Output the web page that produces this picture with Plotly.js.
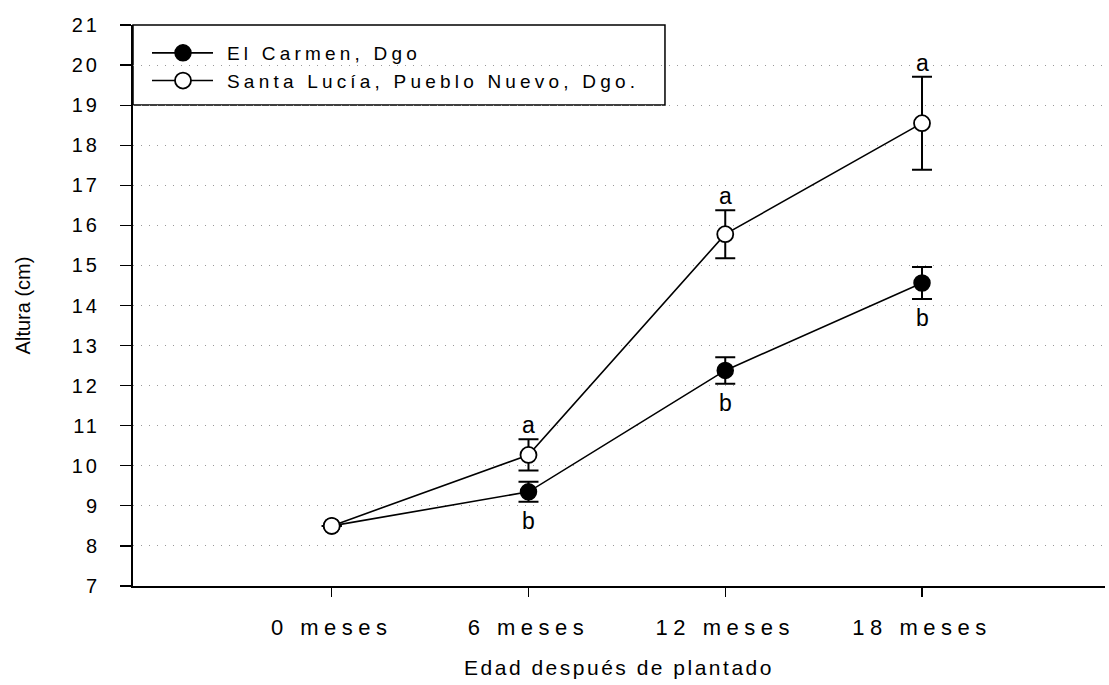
<!DOCTYPE html>
<html>
<head>
<meta charset="utf-8">
<script src="https://cdn.plot.ly/plotly-3.0.1.min.js"></script>
<style>
  html, body { margin: 0; padding: 0; background: #fff; }
  #chart { width: 1109px; height: 685px; }
  .xtick text { letter-spacing: 5.5px; }
  .ytick text { letter-spacing: 3px; }
  .legendtext { letter-spacing: 4.2px; }
  .g-xtitle text { letter-spacing: 2.5px; }
</style>
</head>
<body>
<div id="chart"></div>
<script>
// Plant height by age after planting, two provenances
const categories = ["0 meses", "6 meses", "12 meses", "18 meses"];

const carmenName = "El Carmen, Dgo";
const carmenMean = [8.5, 9.35, 12.38, 14.56];
const carmenErr  = [0, 0.25, 0.33, 0.4];
const carmenLetters = ["", "b", "b", "b"];

const luciaName = "Santa Lucía, Pueblo Nuevo, Dgo.";
const luciaMean = [8.5, 10.27, 15.78, 18.55];
const luciaErr  = [0, 0.39, 0.6, 1.16];
const luciaLetters = ["", "a", "a", "a"];

const yTicks = [7, 8, 9, 10, 11, 12, 13, 14, 15, 16, 17, 18, 19, 20, 21];
const gridTicks = [8, 9, 10, 11, 12, 13, 14, 15, 16, 17, 18, 19, 20];

const FONT = "Liberation Sans, Arial, sans-serif";

const traces = [
  {
    x: categories, y: carmenMean, name: carmenName,
    type: "scatter", mode: "lines+markers",
    line: { color: "#000", width: 1.6 },
    marker: { symbol: "circle", size: 16, color: "#000", line: { color: "#000", width: 1.5 } },
    error_y: { type: "data", array: carmenErr, visible: true, color: "#000", thickness: 2, width: 10 }
  },
  {
    x: categories, y: luciaMean, name: luciaName,
    type: "scatter", mode: "lines+markers",
    line: { color: "#000", width: 1.6 },
    marker: { symbol: "circle", size: 16, color: "#fff", line: { color: "#000", width: 1.8 } },
    error_y: { type: "data", array: luciaErr, visible: true, color: "#000", thickness: 2, width: 10 }
  },
  // carrier for the dotted horizontal guides
  {
    x: categories, y: carmenMean, yaxis: "y2", type: "scatter", mode: "none",
    showlegend: false, hoverinfo: "skip"
  }
];

// significance letters above / below the error bars
const annotations = [];
categories.forEach((c, i) => {
  if (luciaLetters[i]) {
    annotations.push({
      x: c, y: luciaMean[i] + luciaErr[i], xref: "x", yref: "y",
      text: luciaLetters[i], showarrow: false, yanchor: "bottom", yshift: -1,
      font: { family: FONT, size: 23, color: "#000" }
    });
  }
  if (carmenLetters[i]) {
    annotations.push({
      x: c, y: carmenMean[i] - carmenErr[i], xref: "x", yref: "y",
      text: carmenLetters[i], showarrow: false, yanchor: "top", yshift: -4,
      font: { family: FONT, size: 23, color: "#000" }
    });
  }
});

const layout = {
  width: 1109, height: 685,
  margin: { l: 133, r: 4, t: 25, b: 99 },
  paper_bgcolor: "#fff", plot_bgcolor: "rgba(0,0,0,0)",
  font: { family: FONT, color: "#000" },
  showlegend: true,
  legend: {
    x: 0.0144, y: 0.984, xanchor: "left", yanchor: "top",
    bgcolor: "rgba(255,255,255,0)", borderwidth: 0,
    font: { family: FONT, size: 19, color: "#000" },
    tracegroupgap: 0, itemwidth: 70
  },
  xaxis: {
    type: "category", range: [-1.01, 3.93],
    showline: true, linecolor: "#000", linewidth: 2,
    ticks: "outside", ticklen: 9, tickwidth: 1.2, tickcolor: "#000",
    showgrid: false, zeroline: false,
    tickfont: { family: FONT, size: 22, color: "#000" },
    ticklabelstandoff: 12,
    title: { text: "Edad después de plantado", font: { family: FONT, size: 21, color: "#000" }, standoff: 21 }
  },
  yaxis: {
    range: [7, 21], tickvals: yTicks, ticktext: yTicks.map(String),
    showline: true, linecolor: "#000", linewidth: 2,
    ticks: "outside", ticklen: 11, tickwidth: 1.2, tickcolor: "#000",
    showgrid: false, zeroline: false,
    tickfont: { family: FONT, size: 20, color: "#000" },
    ticklabelstandoff: 16,
    title: { text: "Altura (cm)", font: { family: FONT, size: 20, color: "#000" }, standoff: 36 }
  },
  yaxis2: {
    overlaying: "y", range: [7, 21], tickvals: gridTicks,
    showticklabels: false, ticks: "", showline: false, zeroline: false,
    showgrid: true, gridcolor: "#999", gridwidth: 1, griddash: "1px,7px"
  },
  shapes: [
    {
      type: "rect", xref: "paper", yref: "paper",
      x0: 0, x1: 0.5473, y0: 0.8575, y1: 1,
      line: { color: "#000", width: 1.5 }, fillcolor: "rgba(255,255,255,1)", layer: "below"
    }
  ],
  annotations: annotations
};

Plotly.newPlot("chart", traces, layout, { staticPlot: true, displayModeBar: false }).then(gd => {
  // longer legend sample lines with the marker centred on them
  gd.querySelectorAll(".legend .traces").forEach(tr => {
    tr.querySelectorAll(".legendlines path").forEach(p => p.setAttribute("d", "M5,0h61"));
    tr.querySelectorAll(".legendpoints path.scatterpts").forEach(p => p.setAttribute("transform", "translate(36,0)"));
  });
});
</script>
</body>
</html>
